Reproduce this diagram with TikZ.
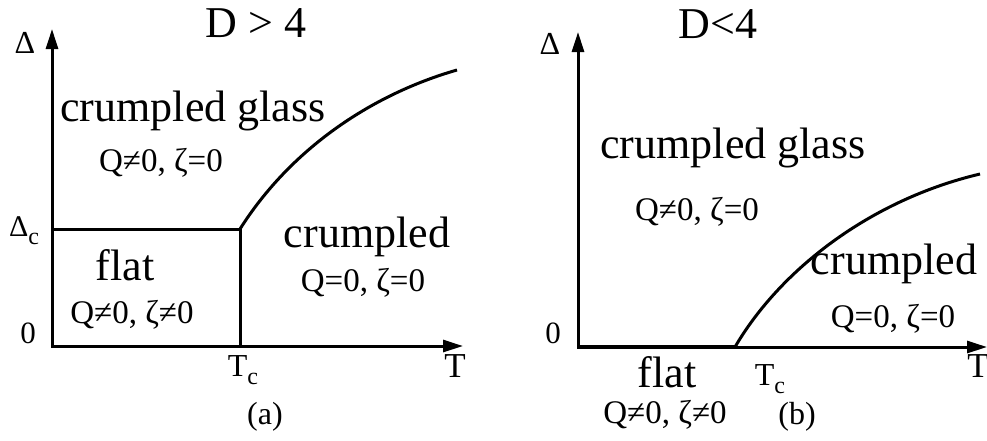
\documentclass[tikz,border=0pt]{standalone}
\usepackage{fontspec}
\setmainfont{Liberation Serif}
\usetikzlibrary{arrows.meta}
\newcommand\subc[1]{\raisebox{-0.28em}{\fontsize{24}{26}\selectfont #1}}
\begin{document}
\begin{tikzpicture}[x=1pt,y=-1pt,
  big/.style={anchor=base,inner sep=0pt,font=\fontsize{44}{48}\selectfont},
  qz/.style={anchor=base,inner sep=0pt,font=\fontsize{33}{36}\selectfont},
  axl/.style={anchor=base,inner sep=0pt,font=\fontsize{32}{36}\selectfont},
  axisline/.style={line width=3pt,{Triangle[length=20pt,width=12pt]}-{Triangle[length=20pt,width=12pt]}},
  bnd/.style={line width=3pt}]
\useasboundingbox[fill=white] (0,0) rectangle (987,440);
% ---------- panel (a) ----------
\coordinate (aY) at (52,29);
\coordinate (aO) at (52,346);
\coordinate (aX) at (463,346);
\coordinate (aDc) at (52,229);
\coordinate (aP) at (240,229);
\coordinate (aTc) at (240,346);
\coordinate (aE) at (457,70);
\draw[axisline] (aY) -- (aO) -- (aX);
\draw[bnd] (aDc) -- (aP) -- (aTc);
\draw[bnd] (aP) .. controls (290,150) and (370,95) .. (aE);
\node[big] (aTitle) at (256,37) {D > 4};
\node[axl] (aDelta) at (25,53) {Δ};
\node[axl, font=\fontsize{30}{34}\selectfont] (aDeltac) at (24,236) {Δ\subc{c}};
\node[axl, font=\fontsize{31}{34}\selectfont] (aZero) at (28,343) {0};
\node[axl] (aTcl) at (243,376) {T\subc{c}};
\node[axl, font=\fontsize{35}{38}\selectfont] (aT) at (455,377) {T};
\node[axl] (aLab) at (265,424) {(a)};
\node[big] (aCG) at (193,121) {crumpled glass};
\node[qz] (aCGq) at (161,171) {Q≠0, ζ=0};
\node[big] (aFl) at (125,280) {flat};
\node[qz] (aFlq) at (132,323) {Q≠0, ζ≠0};
\node[big] (aCr) at (367,247) {crumpled};
\node[qz] (aCrq) at (363,291) {Q=0, ζ=0};
% ---------- panel (b) ----------
\coordinate (bY) at (578,32);
\coordinate (bO) at (578,347);
\coordinate (bX) at (987,347);
\coordinate (bTc) at (735,347);
\coordinate (bE) at (980,174);
\draw[axisline] (bY) -- (bO) -- (bX);
\draw[line width=4pt] (bO) -- (bTc);
\draw[bnd] (bTc) .. controls (780,270) and (870,200) .. (bE);
\node[big] (bTitle) at (718,38) {D<4};
\node[axl] (bDelta) at (550,54) {Δ};
\node[axl, font=\fontsize{31}{34}\selectfont] (bZero) at (553,343) {0};
\node[axl] (bTcl) at (770,385) {T\subc{c}};
\node[axl, font=\fontsize{35}{38}\selectfont] (bT) at (978,377) {T};
\node[axl] (bLab) at (797,424) {(b)};
\node[big] (bCG) at (733,158) {crumpled glass};
\node[qz] (bCGq) at (697,220) {Q≠0, ζ=0};
\node[big] (bCr) at (894,274) {crumpled};
\node[qz] (bCrq) at (893,327) {Q=0, ζ=0};
\node[big] (bFl) at (667,387) {flat};
\node[qz] (bFlq) at (665,423) {Q≠0, ζ≠0};
\end{tikzpicture}
\end{document}
